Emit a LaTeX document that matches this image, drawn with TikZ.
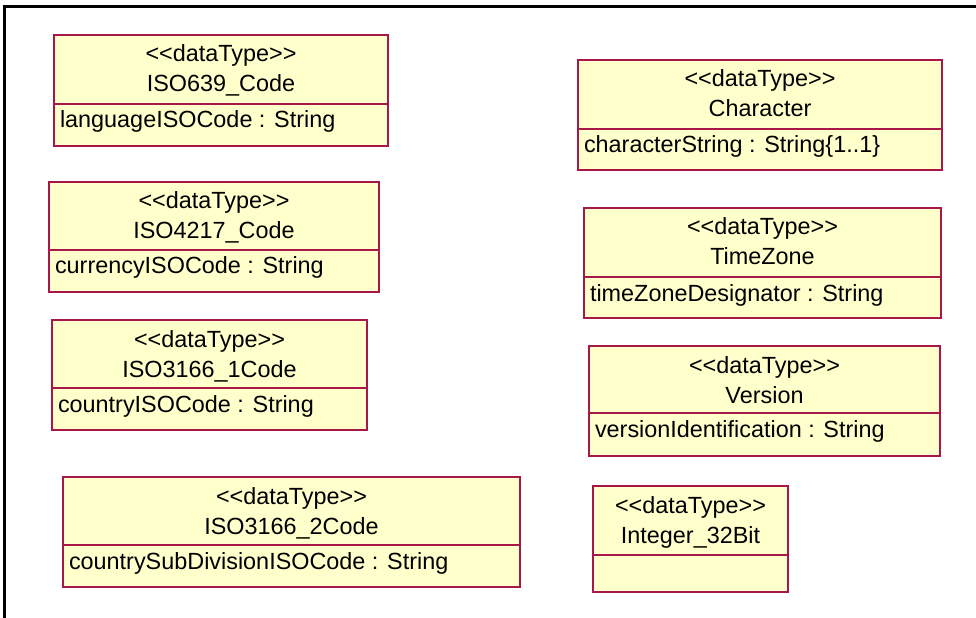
\documentclass[tikz,border=0pt]{standalone}
\usepackage{fontspec}
\setmainfont{Liberation Sans}
\usetikzlibrary{calc}
\definecolor{boxfill}{HTML}{FFFFCC}
\definecolor{boxline}{HTML}{A8174A}
\tikzset{
  umlbox/.style={draw=boxline, fill=boxfill, line width=1.4bp, inner sep=0pt, outer sep=0pt, rectangle},
  umlline/.style={draw=boxline, line width=1.4bp},
  txt/.style={inner sep=0pt, outer sep=0pt, font=\fontsize{23.4bp}{28bp}\selectfont},
  frameline/.style={draw=black, line width=2.2bp}
}
\newcommand\stereodt{{<}{<}dataType{>}{>}}
\newcommand\dtbox[9]{%
  \pgfmathsetmacro\bw{#4-#2}%
  \pgfmathsetmacro\bh{#6-#3}%
  \node[umlbox, minimum width=\bw bp, minimum height=\bh bp, anchor=north west] (#1) at (#2,#3) {};
  \draw[umlline] (#2,#5) -- (#4,#5);
  \node[txt, anchor=base] (#1-st) at ($(#1.north)+(0,27)$) {#7};
  \node[txt, anchor=base] (#1-nm) at ($(#1.north)+(0,57)$) {#8};
  \node[txt, anchor=base west] (#1-at) at (#2+6,#5+24) {#9};
}
\begin{document}
\begin{tikzpicture}[x=1bp,y=-1bp]
\useasboundingbox (0,0) rectangle (976,618);
\coordinate (fl) at (4.5,618);
\coordinate (ftl) at (4.5,6.5);
\coordinate (fr) at (976,6.5);
\draw[frameline] (fl) -- (ftl) -- (fr);
\dtbox{iso639}{54}{35}{388}{104}{146}{\stereodt}{ISO639\_Code}{languageISOCode : String}
\dtbox{iso4217}{49}{182}{379}{250}{292}{\stereodt}{ISO4217\_Code}{currencyISOCode : String}
\dtbox{iso3166a}{52}{320}{367}{388}{430}{\stereodt}{ISO3166\_1Code}{countryISOCode : String}
\dtbox{iso3166b}{63}{477}{520}{545}{587}{\stereodt}{ISO3166\_2Code}{countrySubDivisionISOCode : String}
\dtbox{character}{578}{60}{942}{129}{170}{\stereodt}{Character}{characterString : String\{1..1\}}
\dtbox{timezone}{584}{208}{941}{277}{318}{\stereodt}{TimeZone}{timeZoneDesignator : String}
\dtbox{version}{589}{346}{940}{413}{456}{\stereodt}{Version}{versionIdentification : String}
\dtbox{integer}{593}{486}{788}{555}{592}{\stereodt}{Integer\_32Bit}{}
\end{tikzpicture}
\end{document}
